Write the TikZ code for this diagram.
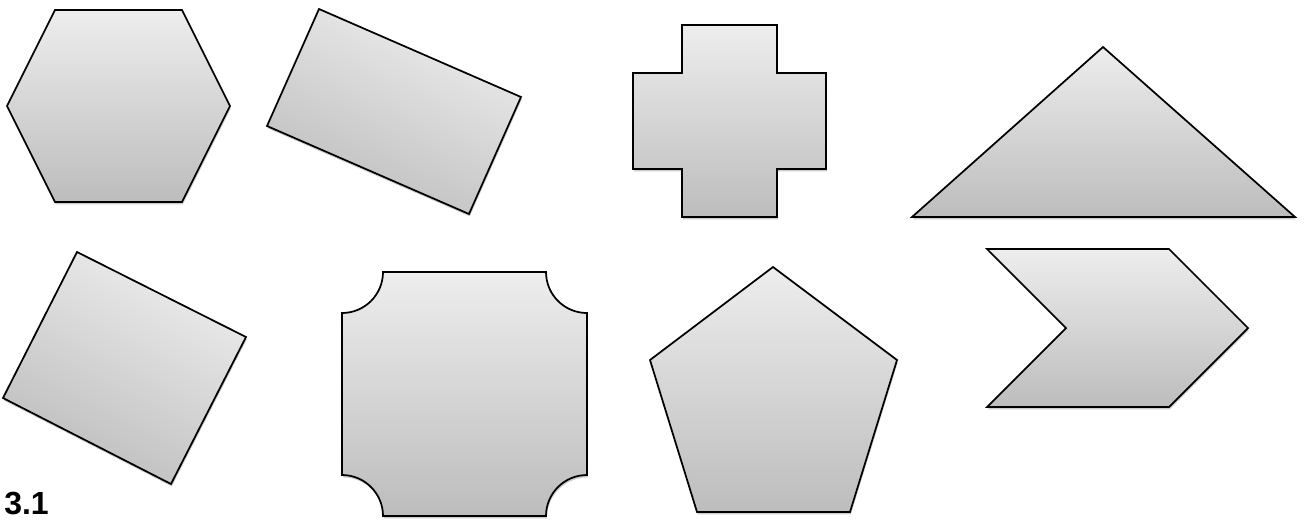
\documentclass[tikz,border=0pt]{standalone}
\usepackage{fontspec}
\setmainfont{Liberation Sans}
\usetikzlibrary{shadows}
\begin{document}
\begin{tikzpicture}[x=0.75pt,y=-0.75pt,
  shp/.style={draw=black,line width=1.3pt,line join=miter,
    top color=black!7,bottom color=black!26,
    drop shadow={shadow xshift=0.6pt,shadow yshift=-1.8pt,opacity=0.2,fill=black}},
  lbl/.style={font=\fontsize{24}{28}\selectfont\bfseries,inner sep=0pt,anchor=base west}]
\useasboundingbox (0,0) rectangle (1308,519);
% hexagon
\path[shp] (55,10) -- (182,10) -- (230,106) -- (182,202) -- (55,202) -- (7,106) -- cycle;
% rotated rectangle (top)
\path[shp,shading angle=-23.5] (319,9) -- (521,97) -- (469,214) -- (267,126) -- cycle;
% cross
\path[shp] (682,25) -- (777,25) -- (777,73) -- (826,73) -- (826,169) -- (777,169) -- (777,217)
  -- (682,217) -- (682,169) -- (633,169) -- (633,73) -- (682,73) -- cycle;
% triangle
\path[shp] (1103,47) -- (1295,217) -- (912,217) -- cycle;
% rotated rectangle (bottom left)
\path[shp,shading angle=-26.7] (77,252) -- (246,337) -- (171,484) -- (3,398) -- cycle;
% plaque
\path[shp] (383,272) -- (546,272) arc[start angle=180,end angle=90,radius=41]
  -- (587,475) arc[start angle=270,end angle=180,radius=41]
  -- (383,516) arc[start angle=0,end angle=-90,radius=41]
  -- (342,313) arc[start angle=90,end angle=0,radius=41] -- cycle;
% pentagon
\path[shp] (773,267) -- (897,360) -- (850,512) -- (697,512) -- (650,360) -- cycle;
% chevron
\path[shp] (987,249) -- (1169,249) -- (1248,328) -- (1169,407) -- (987,407) -- (1066,328) -- cycle;
% label
\node[lbl] (label) at (4,514) {3.1};
\end{tikzpicture}
\end{document}
